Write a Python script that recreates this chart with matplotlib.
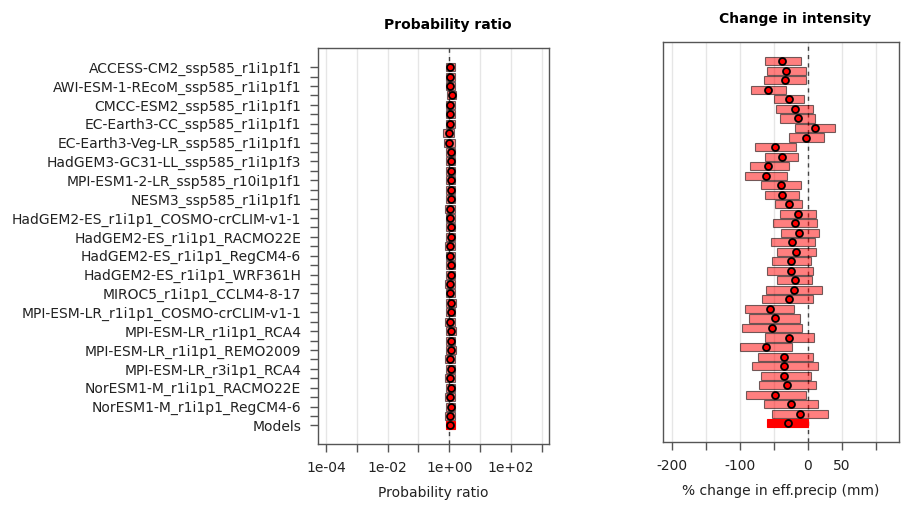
import numpy as np
import matplotlib
matplotlib.use('Agg')
import matplotlib.pyplot as plt

# model names (each model takes two rows, only the first is labelled)
models = ['ACCESS-CM2_ssp585_r1i1p1f1', 'AWI-ESM-1-REcoM_ssp585_r1i1p1f1',
          'CMCC-ESM2_ssp585_r1i1p1f1', 'EC-Earth3-CC_ssp585_r1i1p1f1',
          'EC-Earth3-Veg-LR_ssp585_r1i1p1f1', 'HadGEM3-GC31-LL_ssp585_r1i1p1f3',
          'MPI-ESM1-2-LR_ssp585_r10i1p1f1', 'NESM3_ssp585_r1i1p1f1',
          'HadGEM2-ES_r1i1p1_COSMO-crCLIM-v1-1', 'HadGEM2-ES_r1i1p1_RACMO22E',
          'HadGEM2-ES_r1i1p1_RegCM4-6', 'HadGEM2-ES_r1i1p1_WRF361H',
          'MIROC5_r1i1p1_CCLM4-8-17', 'MPI-ESM-LR_r1i1p1_COSMO-crCLIM-v1-1',
          'MPI-ESM-LR_r1i1p1_RCA4', 'MPI-ESM-LR_r1i1p1_REMO2009',
          'MPI-ESM-LR_r3i1p1_RCA4', 'NorESM1-M_r1i1p1_RACMO22E',
          'NorESM1-M_r1i1p1_RegCM4-6']

# probability ratio (39 rows, last = Models)
pr_best = [1.08, 1.08, 1.08, 1.19, 1.08, 1.08, 1.05, 0.98, 1.01, 1.13,
           1.11, 1.13, 1.13, 1.11, 1.11, 1.08, 1.08, 1.11, 1.11, 1.08,
           1.08, 1.11, 1.11, 1.08, 1.08, 1.13, 1.11, 1.08, 1.13, 1.11,
           1.13, 1.08, 1.11, 1.08, 1.11, 1.08, 1.11, 1.05, 1.08]
pr_lo = [0.78, 0.78, 0.78, 0.85, 0.78, 0.78, 0.76, 0.62, 0.66, 0.80,
         0.80, 0.80, 0.80, 0.79, 0.79, 0.75, 0.76, 0.78, 0.78, 0.74,
         0.76, 0.76, 0.78, 0.74, 0.76, 0.78, 0.78, 0.74, 0.80, 0.77,
         0.80, 0.75, 0.78, 0.75, 0.78, 0.74, 0.77, 0.72, 0.78]
pr_hi = [1.55, 1.55, 1.55, 1.70, 1.55, 1.55, 1.50, 1.45, 1.50, 1.60,
         1.60, 1.60, 1.60, 1.60, 1.58, 1.55, 1.55, 1.60, 1.60, 1.58,
         1.55, 1.60, 1.60, 1.58, 1.55, 1.62, 1.60, 1.58, 1.62, 1.60,
         1.62, 1.58, 1.60, 1.58, 1.60, 1.58, 1.60, 1.50, 1.52]

# change in intensity, % (39 rows, last = Models)
ci_best = [-36.8, -31.4, -33.3, -57.4, -27.0, -18.1, -14.7, 10.8, -2.0, -47.1,
           -37.7, -57.4, -61.3, -39.2, -37.3, -27.9, -14.2, -18.6, -12.3, -23.0,
           -16.7, -25.0, -25.0, -18.6, -20.6, -27.9, -55.4, -47.5, -52.9, -27.5,
           -61.3, -35.3, -34.8, -35.3, -30.9, -48.5, -25.0, -10.8, -29.4]
ci_lo = [-62.7, -59.8, -64.7, -82.4, -49.5, -46.6, -40.7, -18.6, -27.5, -77.5,
         -62.3, -84.8, -92.6, -68.1, -62.3, -48.5, -40.7, -50.5, -38.7, -54.4,
         -45.6, -52.0, -59.3, -44.6, -61.3, -67.6, -92.2, -85.8, -96.1, -62.7,
         -99.0, -72.5, -81.4, -69.1, -71.1, -90.2, -64.7, -52.0, -59.3]
ci_hi = [-9.8, -2.5, -1.5, -31.9, -4.9, 8.3, 10.3, 40.7, 24.0, -17.6,
         -13.7, -27.5, -30.4, -9.8, -11.8, -7.8, 12.7, 13.7, 17.2, 10.3,
         13.2, 4.9, 8.3, 6.4, 21.1, 8.3, -19.6, -11.3, -8.3, 9.3,
         -22.5, 7.4, 14.7, 4.4, 13.2, -1.5, 14.7, 29.9, 1.0]

n = len(ci_best)
rows = np.arange(1, n + 1)
ylabels = []
for m in models:
    ylabels += [m, '']
ylabels.append('Models')

box_col = [(1, 0, 0, 0.5)] * (n - 1) + ['red']
edge_col = [(0, 0, 0, 0.55)] * (n - 1) + ['red']
axcol = '#555555'

fig = plt.figure(figsize=(9.1, 5.14), dpi=100)


def style(ax):
    for s in ax.spines.values():
        s.set_color(axcol)
        s.set_linewidth(1)
    ax.tick_params(colors=axcol, labelcolor='#222222', length=5.8, width=1,
                   labelsize=10)


# --- probability ratio panel ---
ax1 = fig.add_axes([317.7 / 910, 1 - 444.3 / 514, 231.6 / 910, 396 / 514])
style(ax1)
ax1.set_xscale('log')
ax1.set_xlim(10 ** -4.27, 10 ** 3.25)
ax1.set_ylim(41, -1)
dec = [10.0 ** k for k in range(-4, 4)]
for d in dec:
    ax1.axvline(d, color='#e6e6e6', lw=1, zorder=0)
ax1.axvline(1, color='#444444', lw=1, ls=(0, (3, 3)), zorder=1)
lo = np.array(pr_lo)
hi = np.array(pr_hi)
ax1.barh(rows, hi - lo, left=lo, height=0.85, color=box_col,
         edgecolor=edge_col, linewidth=0.8, zorder=2)
ax1.plot(pr_best, rows, 'o', mfc='red', mec='black', ms=5, mew=1.3,
         ls='none', zorder=3)
ax1.set_xticks(dec)
ax1.set_xticklabels(['1e-04', '', '1e-02', '', '1e+00', '', '1e+02', ''])
ax1.xaxis.set_minor_locator(matplotlib.ticker.NullLocator())
ax1.set_yticks(rows)
ax1.set_yticklabels(ylabels)
ax1.tick_params(axis='y', pad=6)
ax1.tick_params(axis='x', pad=6)
ax1.set_xlabel('Probability ratio', fontsize=10, labelpad=8, color='#222222')

# --- change in intensity panel ---
ax2 = fig.add_axes([662.7 / 910, 1 - 442.3 / 514, 236.6 / 910, 400 / 514])
style(ax2)
ax2.set_xlim(-213, 135)
ax2.set_ylim(41, -1)
gx = [-200, -150, -100, -50, 0, 50, 100]
for g in gx:
    ax2.axvline(g, color='#e6e6e6', lw=1, zorder=0)
ax2.axvline(0, color='#444444', lw=1, ls=(0, (3, 3)), zorder=1)
lo = np.array(ci_lo)
hi = np.array(ci_hi)
ax2.barh(rows, hi - lo, left=lo, height=0.85, color=box_col,
         edgecolor=edge_col, linewidth=0.8, zorder=2)
ax2.plot(ci_best, rows, 'o', mfc='red', mec='black', ms=5, mew=1.3,
         ls='none', zorder=3)
ax2.set_xticks(gx)
ax2.set_xticklabels(['-200', '', '-100', '', '0', '50', ''])
ax2.set_yticks([])
ax2.tick_params(axis='x', pad=6)
ax2.set_xlabel('% change in eff.precip (mm)', fontsize=10, labelpad=8,
               color='#222222')

fig.text(448 / 910, 1 - 25 / 514, 'Probability ratio', ha='center',
         va='center', fontsize=10, fontweight='bold')
fig.text(795 / 910, 1 - 19 / 514, 'Change in intensity', ha='center',
         va='center', fontsize=10, fontweight='bold')

fig.savefig('out.png', dpi=100)
